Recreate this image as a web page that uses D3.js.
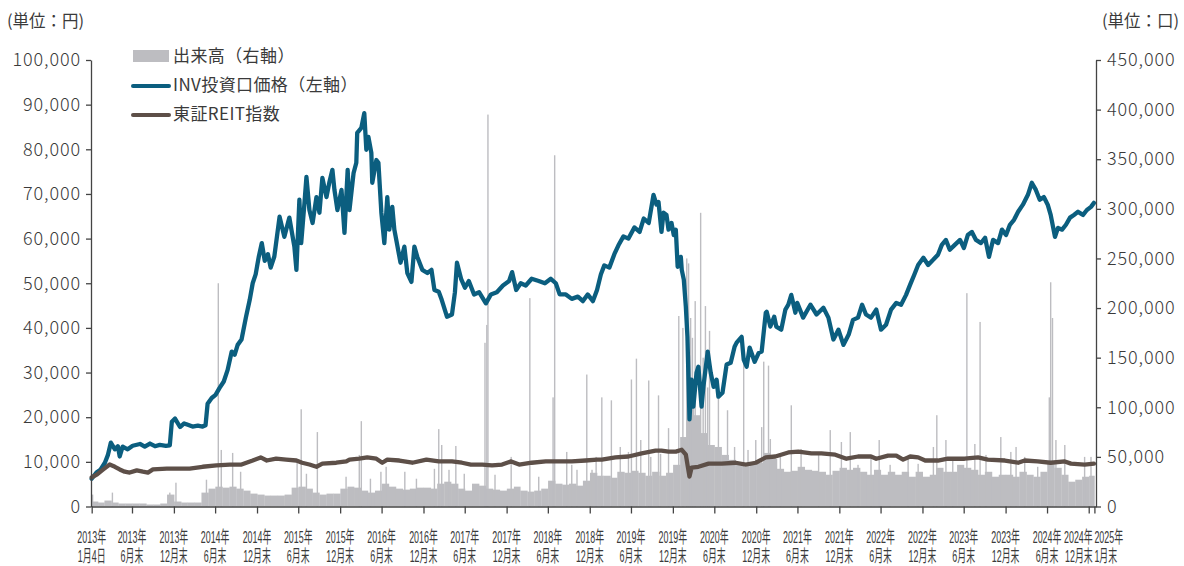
<!DOCTYPE html>
<html><head><meta charset="utf-8">
<script src="https://cdn.jsdelivr.net/npm/d3@7"></script>
<style>
body{margin:0;background:#fff;}
svg{display:block;font-family:"Noto Sans CJK JP","Noto Sans",sans-serif;}
</style></head><body>
<svg id="c" width="1184" height="566"></svg>
<script>
// INV price (left axis, yen)
const invPrice = [
["2013-01-04",6200],["2013-01-25",7600],["2013-02-11",8200],["2013-03-03",9800],["2013-03-16",11500],["2013-03-29",14300],
["2013-04-16",12800],["2013-04-29",13500],["2013-05-07",11200],["2013-05-20",13400],["2013-06-11",12800],["2013-07-03",13600],
["2013-08-04",14000],["2013-08-25",13400],["2013-09-17",14100],["2013-10-09",13500],["2013-10-30",13800],["2013-11-26",13600],
["2013-12-13",13700],["2013-12-22",19000],["2014-01-05",19700],["2014-01-27",17800],["2014-02-14",18600],["2014-03-02",18300],
["2014-03-23",17900],["2014-04-15",18100],["2014-05-06",17900],["2014-05-19",18200],["2014-05-28",23000],["2014-06-15",24300],
["2014-07-02",25000],["2014-07-19",26500],["2014-08-07",28000],["2014-08-24",30600],["2014-09-11",34700],["2014-09-24",34000],
["2014-10-07",36200],["2014-10-24",37400],["2014-11-12",42300],["2014-11-29",46300],["2014-12-12",50000],["2014-12-25",52000],
["2015-01-08",56000],["2015-01-21",59000],["2015-02-03",55000],["2015-02-17",56500],["2015-03-01",53500],["2015-03-17",56000],
["2015-04-09",64900],["2015-04-30",60400],["2015-05-22",64700],["2015-06-13",58200],["2015-06-22",53000],["2015-07-05",68700],
["2015-07-13",59000],["2015-07-26",67100],["2015-08-05",73800],["2015-08-18",66400],["2015-09-01",63500],["2015-09-18",69300],
["2015-10-01",65800],["2015-10-14",73600],["2015-11-01",69300],["2015-11-14",72700],["2015-11-27",75400],["2015-12-06",70900],
["2015-12-19",66400],["2016-01-06",70900],["2016-01-19",61300],["2016-02-02",75400],["2016-02-10",66400],["2016-02-28",74700],
["2016-03-11",77000],["2016-03-15",83700],["2016-04-02",84800],["2016-04-15",88100],["2016-04-24",79900],["2016-05-03",82800],
["2016-05-16",79200],["2016-05-20",72500],["2016-06-07",77600],["2016-06-16",77000],["2016-06-29",65800],["2016-07-12",59000],
["2016-07-25",69300],["2016-08-03",62000],["2016-08-16",67100],["2016-08-25",62000],["2016-09-08",58200],["2016-09-21",54600],
["2016-10-08",58200],["2016-10-21",52300],["2016-11-08",50300],["2016-11-21",58200],["2016-12-04",55900],["2016-12-26",53000],
["2017-01-17",52300],["2017-02-04",53000],["2017-02-17",48500],["2017-03-08",48100],["2017-03-21",46300],["2017-04-13",42500],
["2017-05-05",43000],["2017-05-18",48000],["2017-05-27",54600],["2017-06-14",51000],["2017-07-01",49000],["2017-07-18",50500],
["2017-08-10",47500],["2017-09-01",48000],["2017-10-01",45500],["2017-10-23",47500],["2017-11-18",48000],["2017-12-15",49500],
["2018-01-11",50500],["2018-01-24",52500],["2018-02-11",48500],["2018-03-03",50000],["2018-03-25",49500],["2018-04-20",51000],
["2018-05-21",50500],["2018-06-17",50000],["2018-07-13",51000],["2018-08-04",50000],["2018-08-21",47500],["2018-09-17",47500],
["2018-10-13",46500],["2018-11-09",47000],["2018-12-01",46000],["2018-12-22",47500],["2019-01-14",46000],["2019-02-01",48500],
["2019-02-18",52000],["2019-03-05",54000],["2019-03-27",53500],["2019-04-18",56500],["2019-05-06",58500],["2019-05-28",60500],
["2019-06-19",60000],["2019-07-15",62500],["2019-08-07",61500],["2019-08-25",64500],["2019-09-16",63500],["2019-10-07",69800],
["2019-10-20",67600],["2019-10-29",68200],["2019-11-11",61500],["2019-11-20",65800],["2019-12-03",65300],["2019-12-12",62000],
["2019-12-25",63500],["2020-01-04",60800],["2020-01-13",62000],["2020-01-21",53700],["2020-02-04",55900],["2020-02-08",53000],
["2020-02-17",50800],["2020-02-26",44700],["2020-03-04",38000],["2020-03-13",19500],["2020-03-22",28400],["2020-03-30",22400],
["2020-04-13",30000],["2020-04-21",31300],["2020-05-05",22400],["2020-05-13",26800],["2020-06-01",34700],["2020-06-14",30000],
["2020-06-27",26800],["2020-07-10",28400],["2020-07-18",24600],["2020-08-05",25500],["2020-08-23",31800],["2020-09-10",32200],
["2020-09-27",35800],["2020-10-06",36700],["2020-10-28",38000],["2020-11-06",32900],["2020-11-19",31300],["2020-12-02",35600],
["2020-12-24",32400],["2021-01-11",34400],["2021-01-24",34700],["2021-02-11",43400],["2021-02-15",43600],["2021-03-03",40300],
["2021-03-20",42500],["2021-03-29",40300],["2021-04-20",39600],["2021-05-08",44100],["2021-05-21",45200],["2021-06-03",47400],
["2021-06-21",43400],["2021-06-29",45600],["2021-07-25",42300],["2021-08-26",45200],["2021-09-22",43000],["2021-10-22",44500],
["2021-11-13",42300],["2021-12-05",37400],["2021-12-27",39600],["2022-01-18",36200],["2022-02-10",38500],["2022-03-01",41800],
["2022-03-23",42300],["2022-04-10",45200],["2022-04-27",43000],["2022-05-19",42300],["2022-06-11",44100],["2022-07-02",39600],
["2022-07-24",40700],["2022-08-15",44100],["2022-09-07",45600],["2022-09-28",45200],["2022-10-20",47400],["2022-11-07",49700],
["2022-11-25",51900],["2022-12-12",54100],["2023-01-04",55700],["2023-01-25",54100],["2023-02-17",55300],["2023-03-09",56400],
["2023-03-26",58600],["2023-04-13",59700],["2023-04-30",57500],["2023-05-22",58600],["2023-06-14",59700],["2023-07-01",57900],
["2023-07-18",60800],["2023-08-05",61500],["2023-08-23",59700],["2023-09-14",59000],["2023-10-02",60200],["2023-10-19",55900],
["2023-11-06",59700],["2023-11-28",59000],["2023-12-15",62000],["2024-01-02",60800],["2024-01-19",63100],["2024-02-06",64200],
["2024-02-24",66000],["2024-03-16",67600],["2024-04-07",69800],["2024-04-24",72500],["2024-05-12",70900],["2024-05-29",68700],
["2024-06-16",69300],["2024-07-03",67600],["2024-07-16",65300],["2024-08-04",60400],["2024-08-17",62400],["2024-09-04",62000],
["2024-09-21",63100],["2024-10-09",64700],["2024-10-26",65300],["2024-11-13",66000],["2024-12-05",65300],["2024-12-22",66400],
["2025-01-09",67100],["2025-01-22",68000]
];

// TSE REIT index (rebased, left axis)
const reitIndex = [
["2013-01-04",6500],["2013-01-28",7200],["2013-02-24",8300],["2013-03-24",9400],["2013-04-16",8900],["2013-05-07",8300],
["2013-05-29",7800],["2013-06-20",7600],["2013-07-21",8100],["2013-08-17",7800],["2013-09-08",7600],["2013-09-30",8300],
["2013-11-30",8500],["2014-01-27",8500],["2014-03-10",8500],["2014-05-06",8900],["2014-07-06",9200],["2014-09-02",9400],
["2014-10-24",9400],["2014-12-12",10300],["2015-01-16",11000],["2015-02-12",10300],["2015-03-25",10700],["2015-05-08",10500],
["2015-06-22",10300],["2015-07-17",9800],["2015-08-18",9400],["2015-09-18",8900],["2015-10-14",9600],["2015-12-14",9800],
["2016-01-27",10100],["2016-02-10",10500],["2016-03-24",10700],["2016-04-28",11000],["2016-06-07",10700],["2016-07-03",9800],
["2016-07-25",10500],["2016-09-16",10300],["2016-11-12",9800],["2017-01-13",10500],["2017-03-08",10100],["2017-05-05",10100],
["2017-06-18",9800],["2017-07-27",9400],["2017-09-15",9400],["2017-10-28",9200],["2017-12-11",9400],["2018-01-20",10100],
["2018-02-24",9400],["2018-04-20",9800],["2018-06-21",10100],["2018-08-17",10100],["2018-10-13",10100],["2018-12-13",10300],
["2019-02-01",10500],["2019-02-22",10500],["2019-04-23",11000],["2019-06-19",11200],["2019-08-16",11900],["2019-10-16",12500],
["2019-11-11",12500],["2019-12-12",12300],["2020-01-13",12300],["2020-02-08",12700],["2020-02-26",11600],["2020-03-04",9400],
["2020-03-13",6700],["2020-03-22",8700],["2020-04-21",8900],["2020-06-05",9600],["2020-08-01",9600],["2020-10-02",9800],
["2020-11-15",9400],["2020-12-29",9800],["2021-02-11",11000],["2021-03-25",11200],["2021-05-21",12100],["2021-07-04",12300],
["2021-08-30",11900],["2021-10-13",11900],["2021-12-13",11600],["2022-01-31",10700],["2022-03-23",11200],["2022-05-19",11200],
["2022-06-11",10700],["2022-08-02",11400],["2022-09-07",11400],["2022-10-07",10500],["2022-11-07",11200],["2022-12-12",11000],
["2023-01-12",10300],["2023-03-09",10300],["2023-04-21",10700],["2023-07-04",10700],["2023-09-01",11000],["2023-10-14",10500],
["2023-12-28",10300],["2024-02-24",9800],["2024-03-24",10300],["2024-05-20",10100],["2024-07-16",9800],["2024-09-16",10100],
["2024-10-13",9600],["2024-12-12",9400],["2025-01-22",9600]
];

// Trading volume (right axis): typical monthly level and individual high days
const volMonths = [
"2013-01","2013-02","2013-03","2013-04","2013-05","2013-06","2013-07","2013-08","2013-09","2013-10","2013-11","2013-12",
"2014-01","2014-02","2014-03","2014-04","2014-05","2014-06","2014-07","2014-08","2014-09","2014-10","2014-11","2014-12",
"2015-01","2015-02","2015-03","2015-04","2015-05","2015-06","2015-07","2015-08","2015-09","2015-10","2015-11","2015-12",
"2016-01","2016-02","2016-03","2016-04","2016-05","2016-06","2016-07","2016-08","2016-09","2016-10","2016-11","2016-12",
"2017-01","2017-02","2017-03","2017-04","2017-05","2017-06","2017-07","2017-08","2017-09","2017-10","2017-11","2017-12",
"2018-01","2018-02","2018-03","2018-04","2018-05","2018-06","2018-07","2018-08","2018-09","2018-10","2018-11","2018-12",
"2019-01","2019-02","2019-03","2019-04","2019-05","2019-06","2019-07","2019-08","2019-09","2019-10","2019-11","2019-12",
"2020-01","2020-02","2020-03","2020-04","2020-05","2020-06","2020-07","2020-08","2020-09","2020-10","2020-11","2020-12",
"2021-01","2021-02","2021-03","2021-04","2021-05","2021-06","2021-07","2021-08","2021-09","2021-10","2021-11","2021-12",
"2022-01","2022-02","2022-03","2022-04","2022-05","2022-06","2022-07","2022-08","2022-09","2022-10","2022-11","2022-12",
"2023-01","2023-02","2023-03","2023-04","2023-05","2023-06","2023-07","2023-08","2023-09","2023-10","2023-11","2023-12",
"2024-01","2024-02","2024-03","2024-04","2024-05","2024-06","2024-07","2024-08","2024-09","2024-10","2024-11","2024-12",
"2025-01"
];
const volBase = [
5000,4000,6000,4000,3000,3000,3000,3000,2000,2000,3000,12000,
5000,4000,4000,4000,14000,18000,20000,19000,20000,18000,16000,13000,
12000,11000,11000,11000,12000,19000,20000,18000,14000,12000,13000,13000,
18000,20000,19000,16000,14000,16000,23000,20000,18000,17000,18000,19000,
19000,18000,23000,25000,23000,18000,16000,23000,21000,18000,17000,16000,
18000,20000,16000,15000,16000,18000,26000,23000,22000,23000,21000,26000,
34000,31000,31000,29000,35000,34000,36000,34000,31000,35000,31000,34000,
42000,70000,120000,92000,74000,62000,60000,52000,47000,42000,40000,42000,
44000,54000,48000,38000,35000,36000,40000,37000,36000,35000,32000,36000,
39000,37000,39000,35000,32000,37000,32000,35000,32000,35000,30000,35000,
30000,32000,39000,35000,35000,42000,39000,37000,32000,35000,30000,32000,
32000,30000,35000,32000,30000,35000,44000,39000,32000,25000,27000,30000,
31000
];
const volSpikes = [
["2013-01-08",12000],["2013-04-05",14000],["2013-12-13",14000],["2014-01-09",24000],["2014-05-23",27000],["2014-07-14",225000],
["2014-07-27",57000],["2014-09-15",54000],["2014-10-20",35000],["2015-06-25",45000],["2015-07-13",98000],["2015-08-05",33000],
["2015-09-22",75000],["2016-01-26",30000],["2016-03-24",52000],["2016-04-02",86000],["2016-05-12",28000],["2016-06-27",35000],
["2016-07-20",40000],["2016-10-10",35000],["2016-11-30",28000],["2017-02-17",38000],["2017-03-08",78000],["2017-03-21",62000],
["2017-04-22",37000],["2017-05-22",61000],["2017-06-28",33000],["2017-09-27",165000],["2017-10-05",183000],["2017-10-10",395000],
["2017-11-10",32000],["2018-01-20",50000],["2018-04-12",210000],["2018-05-21",30000],["2018-07-23",110000],["2018-07-30",354000],
["2018-09-21",55000],["2018-10-13",42000],["2018-11-05",37000],["2018-12-18",133000],["2019-01-10",37000],["2019-01-28",50000],
["2019-02-22",110000],["2019-04-05",107000],["2019-05-14",60000],["2019-06-19",55000],["2019-07-02",128000],["2019-07-24",149000],
["2019-08-12",67000],["2019-09-16",127000],["2019-09-25",50000],["2019-10-29",112000],["2019-11-07",53000],["2019-12-12",79000],
["2020-01-26",192000],["2020-02-13",180000],["2020-03-01",250000],["2020-03-09",245000],["2020-03-18",190000],["2020-03-26",170000],
["2020-04-07",207000],["2020-05-01",296000],["2020-05-12",150000],["2020-05-22",202000],["2020-06-01",120000],["2020-06-09",177000],
["2020-07-18",127000],["2020-08-27",97000],["2020-09-27",60000],["2020-11-06",149000],["2020-11-25",57000],["2020-12-29",67000],
["2021-01-24",80000],["2021-02-02",146000],["2021-02-23",142000],["2021-03-03",68000],["2021-04-16",50000],["2021-06-03",102000],
["2021-07-16",58000],["2021-10-01",52000],["2021-11-21",77000],["2022-01-09",65000],["2022-02-17",75000],["2022-03-23",42000],
["2022-05-19",50000],["2022-06-24",67000],["2022-08-11",42000],["2022-10-29",50000],["2022-12-12",43000],["2023-02-17",60000],
["2023-03-04",92000],["2023-04-13",67000],["2023-05-13",48000],["2023-07-14",215000],["2023-08-18",63000],["2023-09-10",186000],
["2023-10-06",52000],["2023-12-10",70000],["2024-01-23",55000],["2024-02-15",60000],["2024-03-24",50000],["2024-05-20",40000],
["2024-07-10",110000],["2024-07-16",226000],["2024-07-24",190000],["2024-08-08",67000],["2024-09-16",62000],["2024-12-12",50000],
["2025-01-09",50000]
];

const tickDates = ["2013-01-04","2013-06-30","2013-12-31","2014-06-30","2014-12-31","2015-06-30","2015-12-31","2016-06-30",
"2016-12-31","2017-06-30","2017-12-31","2018-06-30","2018-12-31","2019-06-30","2019-12-31","2020-06-30","2020-12-31",
"2021-06-30","2021-12-31","2022-06-30","2022-12-31","2023-06-30","2023-12-31","2024-06-30","2024-12-30","2025-01-24"];
const tickYear = ["2013年","2013年","2013年","2014年","2014年","2015年","2015年","2016年","2016年","2017年","2017年","2018年","2018年",
"2019年","2019年","2020年","2020年","2021年","2021年","2022年","2022年","2023年","2023年","2024年","2024年","2025年"];
const tickDay = ["1月4日","6月末","12月末","6月末","12月末","6月末","12月末","6月末","12月末","6月末","12月末","6月末","12月末",
"6月末","12月末","6月末","12月末","6月末","12月末","6月末","12月末","6月末","12月末","6月末","12月末","1月末"];
const leftTicks = [0,10000,20000,30000,40000,50000,60000,70000,80000,90000,100000];
const rightTicks = [0,50000,100000,150000,200000,250000,300000,350000,400000,450000];
const legendLabels = ["出来高（右軸）","INV投資口価格（左軸）","東証REIT指数"];

const C_INV = "#0b5e7f", C_REIT = "#5d4f48", C_VOL = "#bdbdc1", C_TXT = "#3a3a3a", C_AX = "#444";
const parse = d3.timeParse("%Y-%m-%d");
const parseM = d3.timeParse("%Y-%m");
const svg = d3.select("#c");
const x = d3.scaleTime().domain([parse("2013-01-01"), parse("2025-01-31")]).range([91, 1096]);
const yL = d3.scaleLinear().domain([0, 100000]).range([506.5, 60]);
const yR = d3.scaleLinear().domain([0, 450000]).range([506.5, 60]);
const dStart = parse("2013-01-04"), dEnd = parse("2025-01-24");

// volume bars
const gVol = svg.append("g").attr("fill", C_VOL);
gVol.selectAll("rect.base").data(volMonths.map((m, i) => [m, volBase[i]])).join("rect")
  .attr("class", "base")
  .attr("x", d => x(d3.max([parseM(d[0]), dStart])))
  .attr("width", d => {
    const s = d3.max([parseM(d[0]), dStart]);
    const e = d3.min([d3.timeMonth.offset(parseM(d[0]), 1), dEnd]);
    return x(e) - x(s) + 0.3;
  })
  .attr("y", d => yR(d[1]))
  .attr("height", d => yR(0) - yR(d[1]));
gVol.selectAll("rect.spk").data(volSpikes).join("rect")
  .attr("class", "spk")
  .attr("x", d => x(parse(d[0])) - 0.7)
  .attr("width", 1.4)
  .attr("y", d => yR(d[1]))
  .attr("height", d => yR(0) - yR(d[1]));

// lines
const lineL = d3.line().x(d => x(parse(d[0]))).y(d => yL(d[1]));
svg.append("path").datum(invPrice).attr("d", lineL).attr("fill", "none")
  .attr("stroke", C_INV).attr("stroke-width", 4.3).attr("stroke-linejoin", "round").attr("stroke-linecap", "round");
svg.append("path").datum(reitIndex).attr("d", lineL).attr("fill", "none")
  .attr("stroke", C_REIT).attr("stroke-width", 4.3).attr("stroke-linejoin", "round").attr("stroke-linecap", "round");

// axes
function styleAxis(g) {
  g.select(".domain").attr("stroke", C_AX).attr("stroke-width", 1.3);
  g.selectAll(".tick line").attr("stroke", C_AX).attr("stroke-width", 1.3);
  g.selectAll(".tick text").attr("fill", C_TXT).attr("font-size", 18).attr("letter-spacing", "0.9px")
    .attr("font-family", "'Noto Sans CJK JP','Noto Sans',sans-serif").attr("font-weight", 300);
}
const fmt = d3.format(",");
svg.append("g").attr("transform", "translate(91,0)")
  .call(d3.axisLeft(yL).tickValues(leftTicks).tickFormat(fmt).tickSize(5).tickSizeOuter(0).tickPadding(5))
  .call(styleAxis);
svg.append("g").attr("transform", "translate(1096,0)")
  .call(d3.axisRight(yR).tickValues(rightTicks).tickFormat(fmt).tickSize(5).tickSizeOuter(0).tickPadding(6))
  .call(styleAxis);
svg.append("g").attr("transform", "translate(0,506.5)")
  .call(d3.axisBottom(x).tickValues(tickDates.map(parse)).tickFormat("").tickSize(7).tickSizeOuter(0))
  .call(styleAxis);

// x labels (horizontally condensed, two lines)
const nT = tickDates.length;
tickDates.forEach((t, i) => {
  let px = x(parse(t)), anchor = "middle";
  if (i === nT - 2) { px += 4; anchor = "end"; }
  if (i === nT - 1) { px += 0; anchor = "start"; }
  const g = svg.append("g").attr("transform", `translate(${px},0) scale(0.54,1)`)
    .attr("font-family", "'Liberation Sans','Noto Sans CJK JP',sans-serif")
    .attr("font-size", 16.5).attr("fill", C_TXT).attr("text-anchor", anchor);
  g.append("text").attr("x", 0).attr("y", 543).text(tickYear[i]);
  g.append("text").attr("x", 0).attr("y", 562.5).text(tickDay[i]);
});

// unit labels
svg.append("text").attr("x", 7).attr("y", 27).attr("fill", C_TXT).attr("font-size", 16.5).text("(単位：円)");
svg.append("text").attr("x", 1102).attr("y", 27).attr("fill", C_TXT).attr("font-size", 16.5).text("(単位：口)");

// legend
const lg = svg.append("g");
lg.append("rect").attr("x", 133).attr("y", 50).attr("width", 36).attr("height", 12).attr("fill", C_VOL);
lg.append("line").attr("x1", 133).attr("x2", 169).attr("y1", 86).attr("y2", 86).attr("stroke", C_INV).attr("stroke-width", 4).attr("stroke-linecap", "round");
lg.append("line").attr("x1", 133).attr("x2", 169).attr("y1", 115).attr("y2", 115).attr("stroke", C_REIT).attr("stroke-width", 4).attr("stroke-linecap", "round");
[62, 91, 120].forEach((yy, i) => {
  lg.append("text").attr("x", 173).attr("y", yy).attr("fill", C_TXT).attr("font-size", 17).attr("letter-spacing", "0.4px").text(legendLabels[i]);
});
</script>
</body></html>
